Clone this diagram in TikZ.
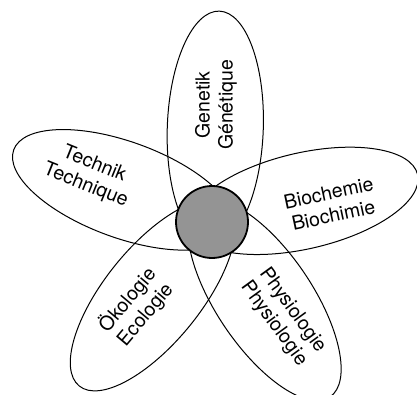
\documentclass[tikz,border=0pt]{standalone}
\usepackage{fontspec}
\setmainfont{TeX Gyre Heros}
\usetikzlibrary{shapes.geometric}
\begin{document}
\begin{tikzpicture}[x=1pt,y=1pt,
  petal/.style={ellipse, draw, line width=1pt, minimum width=234pt, minimum height=96pt, inner sep=0pt, outer sep=0pt},
  txt/.style={font=\fontsize{19.5}{23}\selectfont, align=center, inner sep=0pt},
  hub/.style={circle, draw, line width=1.8pt, fill=black!42, minimum size=72pt, inner sep=0pt}]
\useasboundingbox (0,0) rectangle (417,394);
\coordinate (C) at (212,172);
\node[petal, rotate=88]   (gen) at ([shift={(88:94pt)}]C) {};
\node[petal, rotate=13]   (bio) at ([shift={(13:94pt)}]C) {};
\node[petal, rotate=-56]  (phy) at ([shift={(-56:94pt)}]C) {};
\node[petal, rotate=-129] (oek) at ([shift={(-129:94pt)}]C) {};
\node[petal, rotate=160]  (tec) at ([shift={(160:94pt)}]C) {};
\node[hub] (core) at (C) {};
\node[txt, rotate=90]  (tgen) at (216,289) {Genetik\\Génétique};
\node[txt, rotate=12]  (tbio) at (331,190) {Biochemie\\Biochimie};
\node[txt, rotate=-54] (tphy) at (283,77)  {Physiologie\\Physiologie};
\node[txt, rotate=50]  (toek) at (136,87)  {Ökologie\\Ecologie};
\node[txt, rotate=-22] (ttec) at (90,219)  {Technik\\Technique};
\end{tikzpicture}
\end{document}
